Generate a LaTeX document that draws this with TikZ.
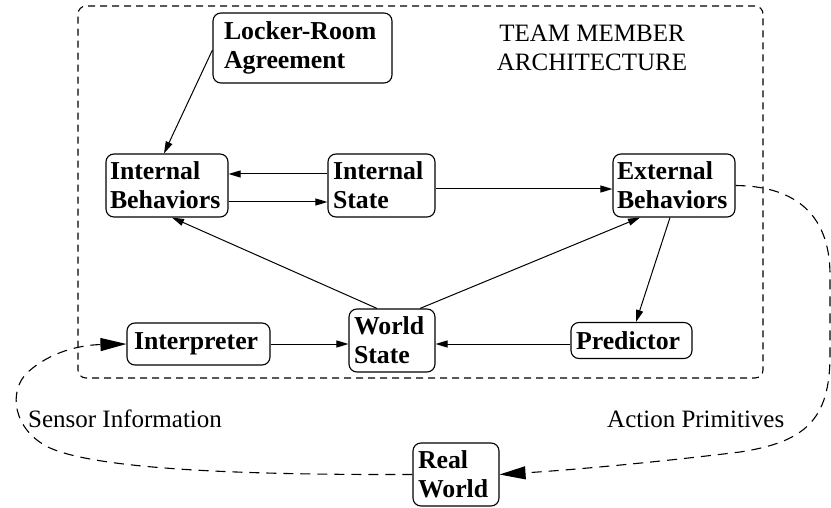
\documentclass[tikz,border=0pt]{standalone}
\usepackage{fontspec}
\setmainfont{Liberation Serif}
\usetikzlibrary{arrows.meta,calc}
\begin{document}
\begin{tikzpicture}[x=1pt,y=-1pt,
  blk/.style={draw, line width=1.1pt, rounded corners=8pt, font=\fontsize{25.8}{29}\selectfont\bfseries, align=left, inner ysep=0pt},
  lbl/.style={font=\fontsize{25}{29}\selectfont, inner sep=0pt},
  arr/.style={line width=1pt, -{Triangle[length=12pt,width=7pt]}},
  dsh/.style={line width=1.1pt, dash pattern=on 10pt off 7pt, -{Triangle[length=26pt,width=13pt]}},
  frame/.style={draw, line width=1.1pt, dash pattern=on 7pt off 5pt, rounded corners=8pt, inner sep=0pt},
]
\useasboundingbox (0,0) rectangle (831,508);
\node[frame, minimum width=685pt, minimum height=372pt] (arch) at (420.5,192) {};
\node[blk, text width=157pt, inner xsep=11pt, minimum height=70pt] (LR) at (302.5,48) {Locker-Room\\Agreement};
\node[blk, text width=114pt, inner xsep=4pt, minimum height=63pt] (IB) at (167,185.5) {Internal\\Behaviors};
\node[blk, text width=97pt, inner xsep=5pt, minimum height=63pt] (IS) at (381.5,185.5) {Internal\\State};
\node[blk, text width=114pt, inner xsep=4pt, minimum height=63pt] (EB) at (674,185.5) {External\\Behaviors};
\node[blk, text width=129pt, inner xsep=7pt, minimum height=42pt] (Interp) at (198.5,344) {Interpreter};
\node[blk, text width=76pt, inner xsep=5pt, minimum height=63pt] (WS) at (392,340.5) {World\\State};
\node[blk, text width=111pt, inner xsep=5pt, minimum height=36pt] (Pred) at (631.5,340.5) {Predictor};
\node[blk, text width=76pt, inner xsep=5pt, minimum height=63pt] (RW) at (456,474.5) {Real\\World};
\node[lbl, align=center] (title) at (592,48) {TEAM MEMBER\\ARCHITECTURE};
\node[lbl, anchor=base west] (si) at (28,427) {Sensor Information};
\node[lbl, anchor=base west] (ap) at (607,427) {Action Primitives};
\draw[arr] ([yshift=-2pt]LR.west) -- ([xshift=-3pt]IB.north);
\draw[arr] ([yshift=11.5pt]IS.west) -- ([yshift=11.5pt]IB.east);
\draw[arr] ([yshift=-16.5pt]IB.east) -- ([yshift=-16.5pt]IS.west);
\draw[arr] ([yshift=-3.5pt]IS.east) -- ([yshift=-3.5pt]EB.west);
\draw[arr] ([xshift=-15pt]WS.north) -- ([xshift=5pt]IB.south);
\draw[arr] ([xshift=28pt]WS.north) -- ([xshift=-34pt]EB.south);
\draw[arr] ([xshift=-4pt]EB.south) -- ([xshift=4.5pt]Pred.north);
\draw[arr] (Interp.east) -- (Interp.east -| WS.west);
\draw[arr] ([yshift=-3.5pt]Pred.west) -- ([yshift=-3.5pt]Pred.west -| WS.east);
\draw[dsh] (EB.east) .. controls (790,186) and (830,210) .. (830,275) -- (830,355) .. controls (830,420) and (805,442) .. (740,452) .. controls (650,463) and (570,470) .. (RW.east);
\draw[dsh] (RW.west) .. controls (250,475) and (100,470) .. (50,448) .. controls (12,430) and (8,390) .. (28,372) .. controls (50,352) and (80,345) .. (Interp.west);
\end{tikzpicture}
\end{document}
